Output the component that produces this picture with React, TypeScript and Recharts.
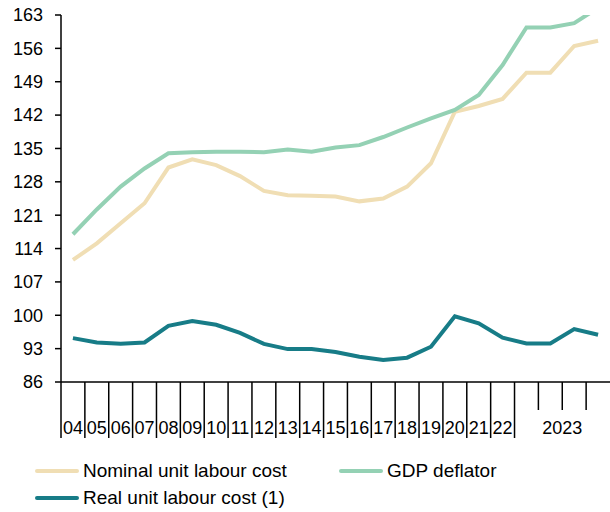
import React from 'react';
import { LineChart, Line, XAxis, YAxis, Legend } from 'recharts';

const categories = ['04','05','06','07','08','09','10','11','12','13','14','15','16','17','18','19','20','21','22','2023 Q1','2023 Q2','2023 Q3','2023 Q4'];
const tickLabels = ['04','05','06','07','08','09','10','11','12','13','14','15','16','17','18','19','20','21','22','','','',''];
const groupLabel = '2023';
const nominalULC = [111.6,115.1,119.3,123.5,131.0,132.7,131.5,129.2,126.1,125.2,125.1,124.9,123.9,124.5,127.0,131.9,142.7,143.9,145.4,150.9,150.9,156.5,157.6];
const gdpDeflator = [117.0,122.2,127.0,130.8,134.0,134.2,134.3,134.3,134.2,134.8,134.3,135.2,135.7,137.4,139.4,141.3,143.1,146.2,152.5,160.4,160.4,161.3,164.5];
const realULC = [95.2,94.3,94.0,94.3,97.8,98.8,98.0,96.3,94.0,92.9,92.9,92.3,91.3,90.6,91.1,93.4,99.8,98.3,95.3,94.1,94.1,97.1,95.9];
const yTicks = [86,93,100,107,114,121,128,135,142,149,156,163];

const seriesNames = ['Nominal unit labour cost', 'GDP deflator', 'Real unit labour cost (1)'];
const colors = ['#F0DEB4', '#94D1B4', '#177C87'];

const data = categories.map((c, i) => ({
  cat: c,
  nominal: nominalULC[i],
  deflator: gdpDeflator[i],
  real: realULC[i],
}));

const FONT = '"Liberation Sans", Arial, sans-serif';
const CHART_W = 610;
const Y_AXIS_W = 61;
const HALF_BAND = (CHART_W - Y_AXIS_W) / categories.length / 2;

const XTick = (props: any) => {
  const { x, y, index } = props;
  const half = HALF_BAND;
  const cat = categories[index];
  const isQuarter = cat.startsWith('2023');
  const isFirstQ = cat === '2023 Q1';
  const len = isQuarter && !isFirstQ ? 28 : 56;
  return (
    <g>
      <line x1={x - half} x2={x - half} y1={y} y2={y + len} stroke="#000" strokeWidth={1.5} />
      {tickLabels[index] ? (
        <text x={x} y={y + 52} textAnchor="middle" fontSize={18} fontFamily={FONT} fill="#000">{tickLabels[index]}</text>
      ) : null}
      {cat === '2023 Q2' ? (
        <text x={x + half} y={y + 52} textAnchor="middle" fontSize={18} fontFamily={FONT} fill="#000">{groupLabel}</text>
      ) : null}
    </g>
  );
};

const LegendBox = () => {
  const items = [
    { name: seriesNames[0], color: colors[0], left: 35, top: 471 - 455 },
    { name: seriesNames[1], color: colors[1], left: 339, top: 471 - 455 },
    { name: seriesNames[2], color: colors[2], left: 35, top: 498 - 455 },
  ];
  return (
    <div style={{ position: 'relative', width: 610, height: 57, fontFamily: FONT, fontSize: 19, color: '#000' }}>
      {items.map((it) => (
        <div key={it.name} style={{ position: 'absolute', left: it.left, top: it.top - 12, height: 24, display: 'flex', alignItems: 'center', whiteSpace: 'nowrap' }}>
          <span style={{ display: 'inline-block', width: 44, height: 4, borderRadius: 2, background: it.color, marginRight: 4 }} />
          <span>{it.name}</span>
        </div>
      ))}
    </div>
  );
};

export default function App() {
  return (
    <div style={{ position: 'absolute', left: 0, top: 0, width: 610, height: 512, background: '#fff' }}>
      <LineChart width={CHART_W} height={512} data={data} margin={{ top: 15, right: 0, bottom: 0, left: 0 }}>
        <XAxis
          dataKey="cat"
          interval={0}
          tickLine={false}
          tickSize={0}
          tickMargin={0}
          height={130}
          padding={{ left: HALF_BAND, right: HALF_BAND }}
          axisLine={{ stroke: '#000', strokeWidth: 1.5 }}
          tick={<XTick />}
        />
        <YAxis
          domain={[86, 163]}
          ticks={yTicks}
          allowDataOverflow
          width={Y_AXIS_W}
          tickSize={6}
          tickMargin={12}
          interval={0}
          axisLine={{ stroke: '#000', strokeWidth: 1.5 }}
          tickLine={{ stroke: '#000', strokeWidth: 1.5 }}
          tick={{ fontSize: 18, fontFamily: FONT, fill: '#000' }}
        />
        <Legend
          layout="horizontal"
          verticalAlign="middle"
          align="center"
          wrapperStyle={{ position: 'absolute', left: 0, top: 455, width: 610, height: 57 }}
          content={() => <LegendBox />}
        />
        <Line type="linear" dataKey="nominal" name={seriesNames[0]} stroke={colors[0]} strokeWidth={4} dot={false} isAnimationActive={false} />
        <Line type="linear" dataKey="deflator" name={seriesNames[1]} stroke={colors[1]} strokeWidth={4} dot={false} isAnimationActive={false} />
        <Line type="linear" dataKey="real" name={seriesNames[2]} stroke={colors[2]} strokeWidth={4} dot={false} isAnimationActive={false} />
      </LineChart>
    </div>
  );
}
